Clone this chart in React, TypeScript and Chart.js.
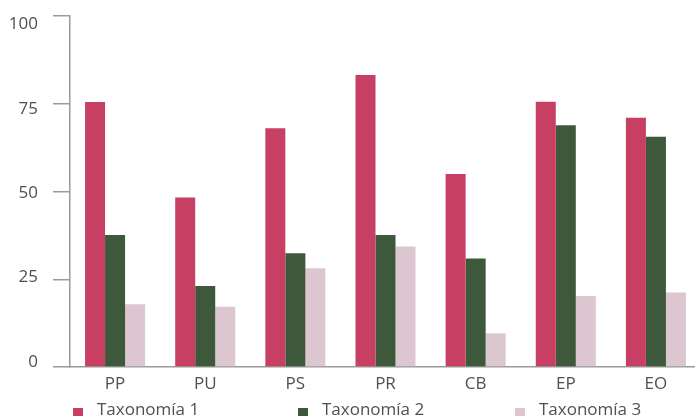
import React, { useEffect, useRef } from "react";
import { Chart, registerables } from "chart.js";

Chart.register(...registerables);

// Categories and series values (percentages)
const categories = ["PP", "PU", "PS", "PR", "CB", "EP", "EO"];
const seriesNames = ["Taxonomía 1", "Taxonomía 2", "Taxonomía 3"];
const taxonomia1 = [75.5, 48.3, 68.0, 83.2, 55.0, 75.6, 71.0];
const taxonomia2 = [37.6, 23.1, 32.4, 37.6, 30.9, 68.9, 65.6];
const taxonomia3 = [17.9, 17.2, 28.1, 34.3, 9.6, 20.2, 21.2];
const yTicks = [0, 25, 50, 75, 100];

const colors = ["#c74064", "#3e583b", "#dcc6d0"];
const FONT = "'Open Sans', 'DejaVu Sans', sans-serif";
const TEXT = "#505050";
const AXIS = "#9a9a9a";

const CANVAS_W = 701;
const CANVAS_H = 420;

export default function App() {
  const canvasRef = useRef<HTMLCanvasElement | null>(null);

  useEffect(() => {
    const canvas = canvasRef.current;
    if (!canvas) return;
    const chart = new Chart(canvas, {
      type: "bar",
      data: {
        labels: categories,
        datasets: [taxonomia1, taxonomia2, taxonomia3].map((values, i) => ({
          label: seriesNames[i],
          data: values,
          backgroundColor: colors[i],
          borderWidth: 0,
          categoryPercentage: 0.666,
          barPercentage: 1,
          yAxisID: "y",
        })),
      },
      options: {
        responsive: false,
        animation: false,
        devicePixelRatio: 1,
        layout: { padding: { top: 16, right: 0, bottom: 0, left: 0 } },
        plugins: {
          legend: { display: false },
          tooltip: { enabled: false },
        },
        scales: {
          x: {
            type: "category",
            offset: true,
            grid: { display: false, drawTicks: false },
            border: { display: true, color: AXIS, width: 1.5 },
            ticks: {
              color: TEXT,
              font: { family: FONT, size: 17 },
              padding: 7,
              maxRotation: 0,
            },
            afterFit: (scale: any) => {
              scale.height = 53;
              scale.paddingLeft = 0;
              scale.paddingRight = 0;
            },
          },
          // value axis: line and tick marks
          y: {
            type: "linear",
            position: "left",
            weight: 0,
            min: 0,
            max: 100,
            afterBuildTicks: (scale: any) => {
              scale.ticks = yTicks.map((v) => ({ value: v }));
            },
            grid: {
              drawOnChartArea: false,
              drawTicks: true,
              tickLength: 17,
              color: AXIS,
              lineWidth: 1.5,
            },
            border: { display: true, color: AXIS, width: 1.5 },
            ticks: { display: false },
            afterFit: (scale: any) => {
              scale.width = 17;
              scale.paddingTop = 0;
              scale.paddingBottom = 0;
            },
          },
          // tick numbers, set slightly tighter than the tick marks
          yLabels: {
            type: "linear",
            position: "left",
            weight: 1,
            min: -1.48,
            max: 102.52,
            afterBuildTicks: (scale: any) => {
              scale.ticks = yTicks.map((v) => ({ value: v }));
            },
            grid: { display: false, drawTicks: false },
            border: { display: false },
            ticks: {
              color: TEXT,
              font: { family: FONT, size: 17 },
              padding: 15,
            },
            afterFit: (scale: any) => {
              scale.width = 53;
              scale.paddingTop = 0;
              scale.paddingBottom = 0;
            },
          },
        },
      },
    });
    return () => chart.destroy();
  }, []);

  const legendPos = [
    { box: 73, text: 97 },
    { box: 298, text: 322 },
    { box: 515, text: 539 },
  ];

  return (
    <div
      style={{
        position: "absolute",
        left: 0,
        top: 0,
        width: 695,
        height: 420,
        overflow: "hidden",
        background: "#ffffff",
      }}
    >
      <canvas
        ref={canvasRef}
        width={CANVAS_W}
        height={CANVAS_H}
        style={{ width: CANVAS_W, height: CANVAS_H, display: "block" }}
      />
      {seriesNames.map((name, i) => (
        <React.Fragment key={name}>
          <div
            style={{
              position: "absolute",
              left: legendPos[i].box,
              top: 408,
              width: 10,
              height: 8,
              background: colors[i],
            }}
          />
          <div
            style={{
              position: "absolute",
              left: legendPos[i].text,
              top: 399,
              fontFamily: FONT,
              fontSize: 17,
              lineHeight: "20px",
              color: TEXT,
              whiteSpace: "nowrap",
            }}
          >
            {name}
          </div>
        </React.Fragment>
      ))}
    </div>
  );
}
